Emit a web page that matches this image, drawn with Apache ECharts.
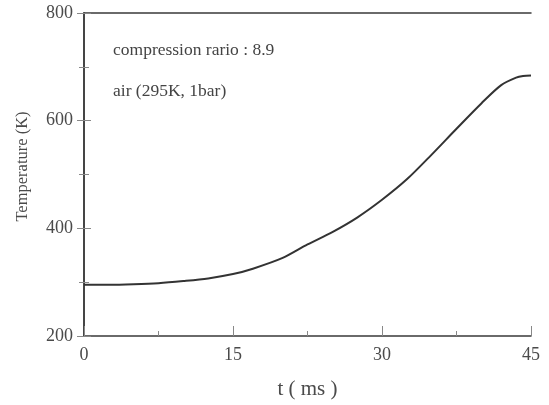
<!DOCTYPE html>
<html>
<head>
<meta charset="utf-8">
<script src="https://cdn.jsdelivr.net/npm/echarts@6/dist/echarts.min.js"></script>
<style>html,body{margin:0;padding:0;background:#fff}#c{width:549px;height:405px}</style>
</head>
<body>
<div id="c"></div>
<script>
const timeMs = [0, 2.5, 5, 7.5, 10, 12.5, 15, 17, 20, 22.5, 25, 27.5, 30, 32.5, 35, 37.5, 40, 42, 43.5, 44.2, 45];
const temperatureK = [295, 295, 296, 298, 302, 307, 315, 325, 345, 370, 393, 420, 453, 491, 537, 585, 632, 666, 680, 683, 684];
const xTicks = [0, 15, 30, 45];
const yTicks = [200, 400, 600, 800];
const notes = ['compression rario : 8.9', 'air (295K, 1bar)'];

const font = '"Liberation Serif", "DejaVu Serif", serif';
const axisCol = '#3a3a3a';
const textCol = '#4a4a4a';
const chart = echarts.init(document.getElementById('c'), null, {renderer: 'canvas'});

const yBase = {
  type: 'value', min: yTicks[0], max: yTicks[yTicks.length - 1], interval: 200,
  axisLine: {show: true, lineStyle: {color: axisCol, width: 1.5}},
  axisTick: {show: true, inside: true, length: 7, lineStyle: {color: '#888'}},
  minorTick: {show: true, splitNumber: 2, length: 5, lineStyle: {color: '#888'}},
  splitLine: {show: false}
};

chart.setOption({
  animation: false,
  grid: {left: 84, right: 18, top: 13, bottom: 65},
  xAxis: [{
    type: 'value', min: xTicks[0], max: xTicks[xTicks.length - 1], interval: 15,
    name: 't ( ms )', nameLocation: 'middle', nameGap: 43,
    nameTextStyle: {fontFamily: font, fontSize: 21, color: textCol},
    axisLine: {show: true, lineStyle: {color: axisCol, width: 1.5}},
    axisTick: {show: true, inside: true, length: 10, lineStyle: {color: '#888'}},
    minorTick: {show: true, splitNumber: 2, length: 5, lineStyle: {color: '#888'}},
    axisLabel: {fontFamily: font, fontSize: 18, color: textCol, margin: 10},
    splitLine: {show: false}
  }, {
    type: 'value', position: 'top', min: 0, max: 45,
    axisLine: {show: true, lineStyle: {color: axisCol, width: 1.5}},
    axisTick: {show: false}, axisLabel: {show: false}, splitLine: {show: false}
  }],
  yAxis: [Object.assign({}, yBase, {
    name: 'Temperature (K)', nameLocation: 'middle', nameGap: 53,
    nameTextStyle: {fontFamily: font, fontSize: 16.5, color: textCol, padding: [0, 0, 0, 16]},
    axisLabel: {fontFamily: font, fontSize: 18, color: textCol, margin: 11}
  }), Object.assign({}, yBase, {position: 'right', axisLabel: {show: false}})],
  graphic: [
    {type: 'text', left: 113, top: 41, style: {text: notes[0], font: '17.5px ' + font, fill: '#444'}},
    {type: 'text', left: 113, top: 82, style: {text: notes[1], font: '17.5px ' + font, fill: '#444'}}
  ],
  series: [{
    type: 'line', smooth: 0.3, symbol: 'none',
    data: timeMs.map((t, i) => [t, temperatureK[i]]),
    lineStyle: {color: '#333', width: 2}
  }]
});
</script>
</body>
</html>
